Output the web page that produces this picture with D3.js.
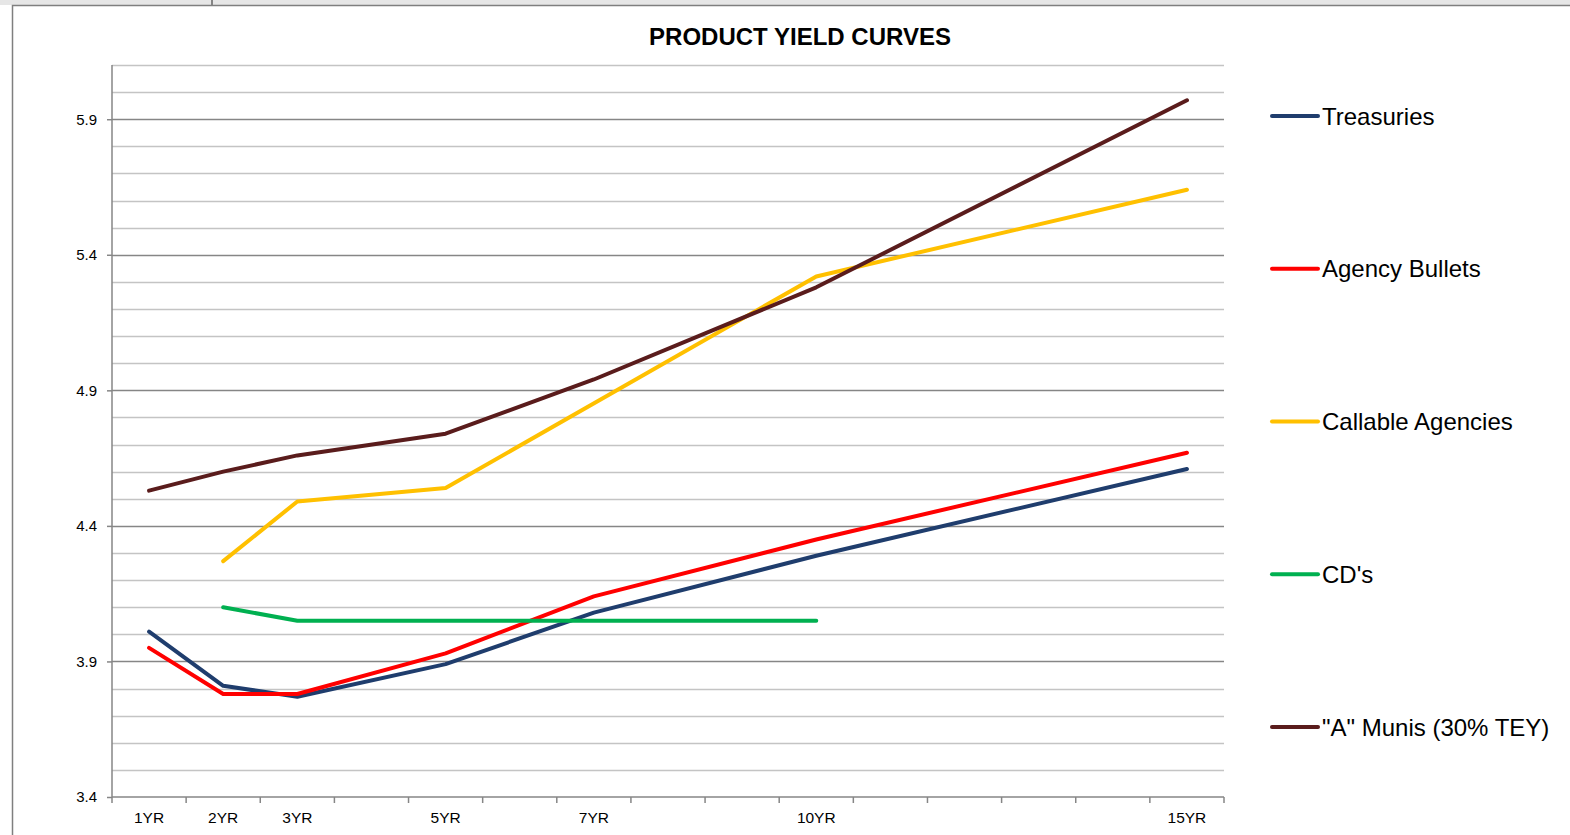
<!DOCTYPE html>
<html>
<head>
<meta charset="utf-8">
<script src="https://cdn.jsdelivr.net/npm/d3@7"></script>
<style>
  body { margin: 0; background: #fff; }
  svg { display: block; font-family: "Liberation Sans", Arial, sans-serif; }
</style>
</head>
<body>
<svg id="chart" width="1570" height="835"></svg>
<script>
// categories: maturity in years, 1..15
var years = d3.range(1, 16);
var tickLabels = {1: "1YR", 2: "2YR", 3: "3YR", 5: "5YR", 7: "7YR", 10: "10YR", 15: "15YR"};

// series values (missing year = no point, line spans the gap)
var treasuries = {1: 4.01, 2: 3.81, 3: 3.77, 5: 3.89, 7: 4.08, 10: 4.29, 15: 4.61};
var agencyBullets = {1: 3.95, 2: 3.78, 3: 3.78, 5: 3.93, 7: 4.14, 10: 4.35, 15: 4.67};
var callableAgencies = {2: 4.27, 3: 4.49, 5: 4.54, 10: 5.32, 15: 5.64};
var cds = {2: 4.10, 3: 4.05, 5: 4.05, 7: 4.05, 10: 4.05};
var munis = {1: 4.53, 2: 4.60, 3: 4.66, 5: 4.74, 7: 4.94, 10: 5.28, 15: 5.97};

var seriesNames = ["Treasuries", "Agency Bullets", "Callable Agencies", "CD's", "\"A\" Munis (30% TEY)"];
var seriesData = [treasuries, agencyBullets, callableAgencies, cds, munis];
var seriesColors = ["#1f3d6d", "#ff0000", "#ffc000", "#00b050", "#5a1c1c"];

var yMajor = [3.4, 3.9, 4.4, 4.9, 5.4, 5.9];

var svg = d3.select("#chart");

// spreadsheet strip behind the chart
svg.append("rect").attr("x", 0).attr("y", 0).attr("width", 1570).attr("height", 5).attr("fill", "#e6e6e6");
svg.append("line").attr("x1", 212).attr("x2", 212).attr("y1", 0).attr("y2", 5).attr("stroke", "#222");
// chart frame
svg.append("rect").attr("x", 12.5).attr("y", 5.5).attr("width", 1570).attr("height", 840)
    .attr("fill", "#fff").attr("stroke", "#7f7f7f").attr("stroke-width", 1.5);

var plotLeft = 112, plotRight = 1224, plotTop = 65, plotBottom = 797;

var x = d3.scaleBand().domain(years).range([plotLeft, plotRight]);
var y = d3.scaleLinear().domain([3.4, 6.1]).range([plotBottom, plotTop]);

// gridlines every 0.1
var minor = d3.range(35, 62).map(function(d) { return d / 10; });
svg.append("g").selectAll("line")
    .data(minor)
    .enter().append("line")
    .attr("x1", plotLeft).attr("x2", plotRight)
    .attr("y1", function(d) { return Math.round(y(d)) + 0.5; })
    .attr("y2", function(d) { return Math.round(y(d)) + 0.5; })
    .attr("stroke", function(d) {
        var isMajor = yMajor.some(function(m) { return Math.abs(m - d) < 1e-6; });
        return isMajor ? "#868686" : "#c4c4c4";
    })
    .attr("stroke-width", 1.5);

// y axis
var yAxis = d3.axisLeft(y).tickValues(yMajor).tickSize(5).tickPadding(10)
    .tickFormat(d3.format(".1f"));
var gy = svg.append("g").attr("transform", "translate(" + plotLeft + ",0)").call(yAxis);
gy.select(".domain").attr("stroke", "#868686").attr("stroke-width", 1.5)
    .attr("d", "M0," + plotTop + "V" + plotBottom);
gy.selectAll(".tick line").attr("stroke", "#868686").attr("stroke-width", 1.5);
gy.selectAll("text").attr("font-size", 15).attr("fill", "#000")
    .attr("font-family", "Liberation Sans, Arial, sans-serif");

// x axis
var xAxis = d3.axisBottom(x).tickSize(0).tickPadding(15)
    .tickFormat(function(d) { return tickLabels[d] || ""; });
var gx = svg.append("g").attr("transform", "translate(0," + plotBottom + ")").call(xAxis);
gx.select(".domain").attr("stroke", "#868686").attr("stroke-width", 1.5)
    .attr("d", "M" + plotLeft + ",0H" + plotRight);
gx.selectAll("text").attr("font-size", 15.5).attr("fill", "#000")
    .attr("font-family", "Liberation Sans, Arial, sans-serif");
// tick marks at category boundaries
gx.append("g").selectAll("line")
    .data(years.concat([16]))
    .enter().append("line")
    .attr("x1", function(d) { return d === 16 ? plotRight : x(d); })
    .attr("x2", function(d) { return d === 16 ? plotRight : x(d); })
    .attr("y1", 0).attr("y2", 6)
    .attr("stroke", "#868686").attr("stroke-width", 1.5);

// title
svg.append("text")
    .attr("x", 800).attr("y", 45)
    .attr("text-anchor", "middle")
    .attr("font-size", 24).attr("font-weight", "bold")
    .text("PRODUCT YIELD CURVES");

// lines
var line = d3.line()
    .x(function(d) { return x(d[0]) + x.bandwidth() / 2; })
    .y(function(d) { return y(d[1]); });

seriesData.forEach(function(s, i) {
    var pts = years.filter(function(yr) { return s[yr] != null; })
        .map(function(yr) { return [yr, s[yr]]; });
    svg.append("path")
        .attr("d", line(pts))
        .attr("fill", "none")
        .attr("stroke", seriesColors[i])
        .attr("stroke-width", 4)
        .attr("stroke-linejoin", "round")
        .attr("stroke-linecap", "round");
});

// legend
var legendY = d3.scalePoint().domain(seriesNames).range([116, 727]);
var legend = svg.append("g").selectAll("g")
    .data(seriesNames)
    .enter().append("g")
    .attr("transform", function(d) { return "translate(1272," + legendY(d) + ")"; });
legend.append("line")
    .attr("x1", 0).attr("x2", 46)
    .attr("stroke", function(d, i) { return seriesColors[i]; })
    .attr("stroke-width", 4).attr("stroke-linecap", "round");
legend.append("text")
    .attr("x", 50).attr("y", 8.5)
    .attr("font-size", 24)
    .text(function(d) { return d; });
</script>
</body>
</html>
